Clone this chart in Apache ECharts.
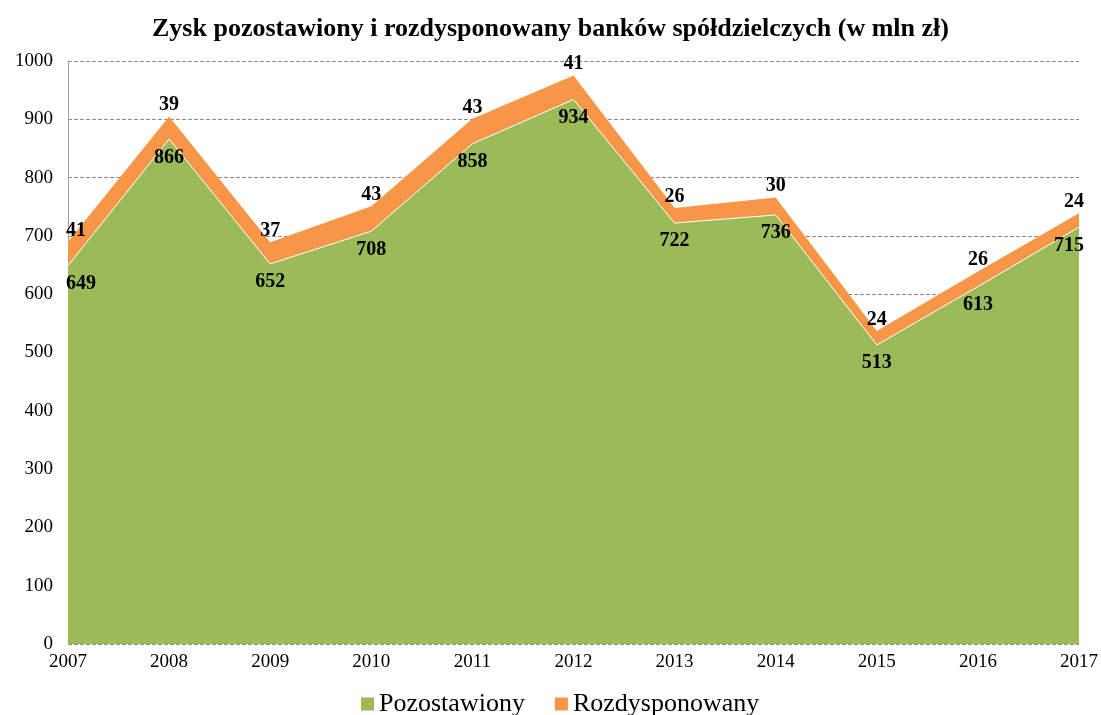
<!DOCTYPE html>
<html><head><meta charset="utf-8">
<script src="https://cdn.jsdelivr.net/npm/echarts@6/dist/echarts.min.js"></script>
<style>html,body{margin:0;padding:0;background:#fff}#c{width:1101px;height:715px}</style>
</head><body><div id="c"></div>
<script>
const years = ['2007','2008','2009','2010','2011','2012','2013','2014','2015','2016','2017'];
const pozostawiony = [649, 866, 652, 708, 858, 934, 722, 736, 513, 613, 715];
const rozdysponowany = [41, 39, 37, 43, 43, 41, 26, 30, 24, 26, 24];
const FONT = '"Liberation Serif", "DejaVu Serif", serif';
const chart = echarts.init(document.getElementById('c'));
const lbl = { show: true, fontFamily: FONT, fontSize: 20, fontWeight: 'bold', color: '#000' };
function edgeData(arr) {
  const last = arr.length - 1;
  return arr.map((v, i) => i === 0 ? { value: v, label: { align: 'left', offset: [-2, 0] } }
    : i === last ? { value: v, label: { align: 'right', offset: [5, 0] } } : v);
}
chart.setOption({
  animation: false,
  title: { text: 'Zysk pozostawiony i rozdysponowany banków spółdzielczych (w mln zł)', left: 'center', top: 11,
    textStyle: { fontFamily: FONT, fontSize: 26, fontWeight: 'bold', color: '#000' } },
  legend: { top: 686, left: 356, itemWidth: 13, itemHeight: 13, itemGap: 30, icon: 'rect',
    textStyle: { fontFamily: FONT, fontSize: 26, color: '#000' } },
  grid: { left: 68, right: 21, top: 61, bottom: 71 },
  xAxis: { type: 'category', data: years, boundaryGap: false,
    axisLine: { show: false }, axisTick: { show: false },
    axisLabel: { fontFamily: FONT, fontSize: 19, color: '#000', margin: 9 } },
  yAxis: { type: 'value', min: 0, max: 1000, interval: 100,
    axisLine: { show: true, lineStyle: { color: '#a0a0a0' } }, axisTick: { show: false },
    axisLabel: { fontFamily: FONT, fontSize: 19, color: '#000', margin: 15, formatter: v => String(v) },
    splitLine: { lineStyle: { type: 'dashed', color: '#8c8c8c' } } },
  series: [
    { name: 'Pozostawiony', type: 'line', stack: 's', data: edgeData(pozostawiony), symbol: 'circle', symbolSize: 0.5, showSymbol: true,
      lineStyle: { width: 1, color: '#ffffff' }, itemStyle: { color: '#9BBB59' },
      areaStyle: { color: '#9BBB59', opacity: 1 },
      label: Object.assign({ position: 'bottom', distance: 8 }, lbl) },
    { name: 'Rozdysponowany', type: 'line', stack: 's', data: edgeData(rozdysponowany), symbol: 'circle', symbolSize: 0.5, showSymbol: true,
      lineStyle: { width: 0 }, itemStyle: { color: '#F79646' },
      areaStyle: { color: '#F79646', opacity: 1 },
      label: Object.assign({ position: 'top', distance: 1 }, lbl) }
  ]
});
</script></body></html>
